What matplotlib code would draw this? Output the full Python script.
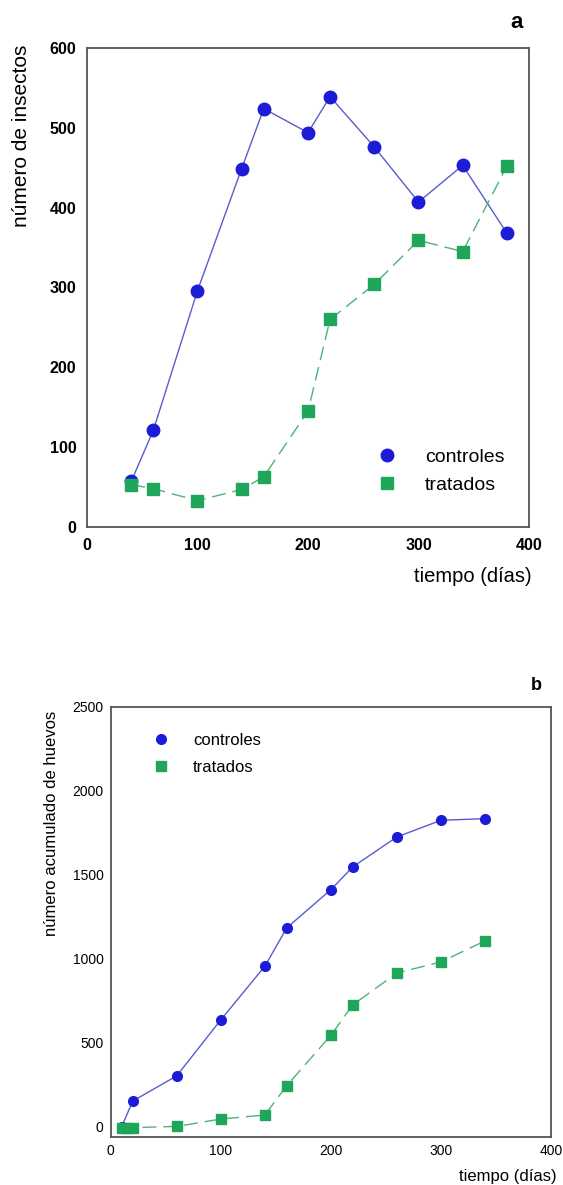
import numpy as np
import matplotlib
matplotlib.use("Agg")
import matplotlib.pyplot as plt

plt.rcParams['font.family'] = ['Liberation Sans', 'DejaVu Sans']

# panel a: numero de insectos
dias_a = [40, 60, 100, 140, 160, 200, 220, 260, 300, 340, 380]
controles_a = [57, 121, 296, 449, 524, 494, 539, 476, 407, 453, 368]
tratados_a = [53, 48, 33, 47, 63, 145, 260, 304, 359, 345, 452]

# panel b: numero acumulado de huevos
dias_b_c = [10, 20, 60, 100, 140, 160, 200, 220, 260, 300, 340]
controles_b = [0, 153, 303, 636, 955, 1184, 1411, 1547, 1725, 1824, 1834]
dias_b_t = [10, 15, 20, 60, 100, 140, 160, 200, 220, 260, 300, 340]
tratados_b = [-5, -5, -5, 2, 46, 70, 245, 544, 726, 915, 981, 1106]

xticks = [0, 100, 200, 300, 400]
yticks_a = [0, 100, 200, 300, 400, 500, 600]
yticks_b = [0, 500, 1000, 1500, 2000, 2500]

blue = '#1c1cd6'
blue_line = '#5a5ccc'
green = '#1fa65a'
green_line = '#4db37a'
frame = '#555555'

fig = plt.figure(figsize=(5.63, 11.85), dpi=100)

# ---- panel a ----
ax1 = fig.add_axes([0.1545, 0.5553, 0.7851, 0.4042])
ax1.plot(dias_a, controles_a, '-', color=blue_line, lw=1.0, zorder=2)
ax1.plot(dias_a, controles_a, 'o', color=blue, ms=9, label='controles', zorder=3)
ax1.plot(dias_a, tratados_a, '-', color=green_line, lw=1.0, dashes=(10, 5), zorder=2)
ax1.plot(dias_a, tratados_a, 's', color=green, ms=8, label='tratados', zorder=4)
ax1.set_xlim(0, 400)
ax1.set_ylim(0, 600)
ax1.set_xticks(xticks)
ax1.set_yticks(yticks_a)
ax1.tick_params(length=0, labelsize=11.5)
ax1.tick_params(axis='x', pad=8)
ax1.tick_params(axis='y', pad=7.5)
for lab in ax1.get_xticklabels() + ax1.get_yticklabels():
    lab.set_fontweight('bold')
ax1.set_xlabel('tiempo (días)', fontsize=14.5, ha='right', va='center')
ax1.xaxis.set_label_coords(1.007, -0.104)
ax1.set_ylabel('número de insectos', fontsize=15, va='center')
ax1.yaxis.set_label_coords(-0.149, 0.816)
ax1.text(0.973, 1.054, 'a', transform=ax1.transAxes, fontsize=16,
         fontweight='bold', ha='center', va='center')
ax1.legend(loc='upper left', bbox_to_anchor=(0.656, 0.165), frameon=False,
           fontsize=14, handlelength=1, handletextpad=1.46, labelspacing=0.55,
           borderpad=0, borderaxespad=0)
for s in ax1.spines.values():
    s.set_color(frame)
    s.set_linewidth(1.3)

# ---- panel b ----
ax2 = fig.add_axes([0.1966, 0.0405, 0.7821, 0.3631])
ax2.plot(dias_b_c, controles_b, '-', color=blue_line, lw=1.0, zorder=2)
ax2.plot(dias_b_c, controles_b, 'o', color=blue, ms=7, label='controles', zorder=3)
ax2.plot(dias_b_t, tratados_b, '-', color=green_line, lw=1.0, dashes=(10, 5), zorder=2)
ax2.plot(dias_b_t, tratados_b, 's', color=green, ms=6.5, label='tratados', zorder=4)
ax2.set_xlim(0, 400)
ax2.set_ylim(-61, 2500)
ax2.set_xticks(xticks)
ax2.set_yticks(yticks_b)
ax2.tick_params(length=0, labelsize=10)
ax2.tick_params(axis='x', pad=5)
ax2.tick_params(axis='y', pad=5)
ax2.set_xlabel('tiempo (días)', fontsize=12, ha='right', va='center')
ax2.xaxis.set_label_coords(1.0136, -0.0923)
ax2.set_ylabel('número acumulado de huevos', fontsize=12, va='center')
ax2.yaxis.set_label_coords(-0.1333, 0.7297)
ax2.text(0.9675, 1.0504, 'b', transform=ax2.transAxes, fontsize=13,
         fontweight='bold', ha='center', va='center')
ax2.legend(loc='upper left', bbox_to_anchor=(0.0954, 0.940), frameon=False,
           fontsize=12, handlelength=1, handletextpad=1.42, labelspacing=0.75,
           borderpad=0, borderaxespad=0)
for s in ax2.spines.values():
    s.set_color(frame)
    s.set_linewidth(1.3)

fig.savefig('out.png', dpi=100)
